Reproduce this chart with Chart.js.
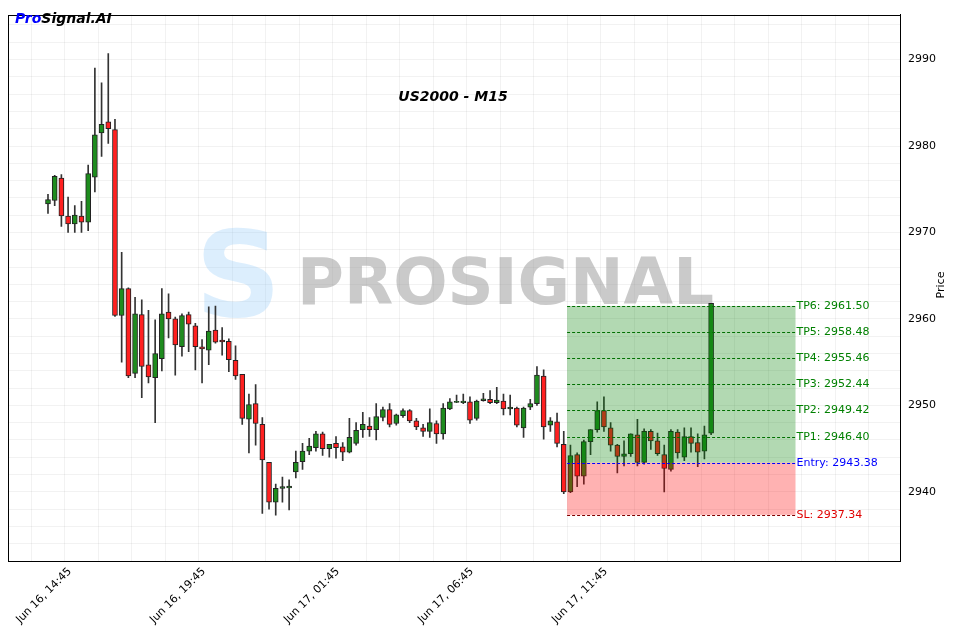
<!DOCTYPE html>
<html>
<head>
<meta charset="utf-8">
<script src="https://cdn.jsdelivr.net/npm/chart.js@4"></script>
<style>
  body { margin: 0; background: #fff; }
</style>
</head>
<body>
<canvas id="chart" width="953" height="629"></canvas>
<script>
// candles, 15 min each, index 0 = Jun 16, 14:45
const opens  = [2973.3,2973.7,2976.3,2971.9,2971.0,2971.9,2971.2,2976.4,2981.5,2982.8,
                2981.9,2960.4,2963.5,2953.7,2960.5,2954.7,2953.2,2955.4,2960.8,2960.0,
                2956.8,2960.5,2959.2,2956.7,2956.4,2958.7,2957.5,2957.4,2955.2,2953.6,
                2948.4,2950.2,2947.8,2943.4,2938.8,2940.4,2940.5,2942.3,2943.5,2944.7,
                2945.1,2946.7,2945.0,2945.6,2945.2,2944.6,2945.6,2947.2,2947.6,2947.2,
                2948.6,2949.5,2947.9,2948.8,2949.4,2948.2,2947.4,2947.0,2947.9,2946.7,
                2949.6,2950.4,2950.3,2950.4,2948.5,2950.6,2950.7,2950.3,2950.5,2949.6,
                2949.7,2947.4,2949.8,2950.2,2953.4,2947.7,2948.1,2945.5,2940.0,2944.3,
                2941.8,2945.8,2947.2,2949.4,2947.4,2945.4,2944.1,2944.4,2946.6,2943.4,
                2947.0,2945.9,2944.3,2942.6,2946.9,2944.0,2946.4,2945.7,2944.7,2946.8];
const highs  = [2974.4,2976.6,2976.7,2974.1,2973.1,2973.6,2977.8,2989.0,2987.3,2990.7,
                2983.1,2967.7,2963.6,2962.5,2962.2,2961.0,2959.9,2963.5,2962.9,2960.2,
                2960.6,2960.8,2959.5,2957.6,2961.4,2961.5,2959.0,2957.7,2956.9,2953.6,
                2951.3,2952.4,2948.6,2943.4,2940.9,2941.7,2941.4,2944.7,2945.6,2946.2,
                2947.0,2946.9,2945.5,2946.4,2945.7,2948.5,2948.0,2949.2,2948.6,2950.2,
                2949.8,2950.2,2949.0,2949.6,2949.5,2948.5,2947.8,2949.6,2948.2,2950.2,
                2950.8,2951.2,2951.3,2951.0,2950.6,2951.4,2951.7,2952.1,2951.3,2951.2,
                2949.8,2949.8,2950.7,2954.5,2954.1,2948.6,2949.1,2947.0,2945.4,2944.5,
                2946.0,2947.2,2950.4,2951.0,2948.0,2945.5,2945.9,2946.7,2948.4,2947.3,
                2947.2,2946.8,2945.4,2947.2,2947.2,2947.4,2947.4,2946.7,2947.6,2961.8];
const lows   = [2972.2,2973.1,2970.7,2970.0,2970.0,2970.0,2970.2,2974.7,2978.8,2980.3,
                2960.3,2955.0,2953.2,2953.2,2950.9,2952.6,2948.0,2954.0,2957.8,2953.5,
                2955.7,2956.2,2954.1,2952.6,2954.7,2957.2,2955.8,2953.9,2953.0,2947.8,
                2944.5,2945.4,2937.5,2938.0,2937.3,2938.8,2937.9,2941.6,2942.6,2944.3,
                2944.7,2944.2,2944.0,2943.9,2943.6,2944.5,2945.4,2946.3,2946.4,2946.0,
                2948.2,2947.5,2947.7,2948.6,2948.0,2947.2,2946.4,2946.3,2945.6,2946.1,
                2949.5,2950.3,2950.2,2947.9,2948.3,2950.5,2950.2,2950.2,2948.9,2948.9,
                2947.5,2946.3,2949.5,2950.0,2946.1,2947.0,2945.2,2939.8,2939.9,2940.6,
                2940.9,2944.3,2946.9,2947.0,2944.7,2942.2,2943.0,2944.1,2943.0,2943.2,
                2944.9,2944.2,2940.0,2942.4,2943.9,2943.6,2944.6,2942.9,2943.8,2946.6];
const closes = [2973.8,2976.5,2971.9,2971.0,2972.0,2971.2,2976.8,2981.3,2982.5,2982.0,
                2960.4,2963.5,2953.4,2960.6,2954.5,2953.3,2956.0,2960.6,2960.0,2957.0,
                2960.4,2959.4,2956.8,2956.6,2958.6,2957.3,2957.4,2955.3,2953.4,2948.5,
                2950.1,2947.9,2943.7,2938.8,2940.4,2940.6,2940.6,2943.4,2944.7,2945.3,
                2946.7,2945.0,2945.5,2945.1,2944.6,2946.3,2947.1,2947.8,2947.2,2948.7,
                2949.5,2947.8,2948.9,2949.4,2948.2,2947.5,2947.0,2948.0,2946.7,2949.7,
                2950.4,2950.4,2950.5,2948.3,2950.5,2950.7,2950.3,2950.6,2949.6,2949.8,
                2947.7,2949.7,2950.2,2953.5,2947.5,2948.2,2945.6,2940.0,2944.2,2941.8,
                2945.8,2947.2,2949.4,2947.5,2945.4,2944.1,2944.4,2946.7,2943.4,2947.0,
                2945.9,2944.4,2942.7,2947.0,2944.5,2946.4,2945.6,2944.6,2946.6,2961.8];

const tickLabels = { 0: 'Jun 16, 14:45', 20: 'Jun 16, 19:45', 40: 'Jun 17, 01:45', 60: 'Jun 17, 06:45', 80: 'Jun 17, 11:45' };

const tpLevels = [2946.40, 2949.42, 2952.44, 2955.46, 2958.48, 2961.50];
const entryLevel = 2943.38;
const slLevel = 2937.34;
const zoneStart = 77.5;
const zoneEnd = 111.6;

const green = '#1e8c1e';
const red = '#ff2020';
const candleColors = opens.map((o, i) => closes[i] >= o ? green : red);

const bodies = opens.map((o, i) => {
    let lo = Math.min(o, closes[i]), hi = Math.max(o, closes[i]);
    if (hi - lo < 0.12) { lo -= 0.06; hi += 0.06; }
    return { x: i, y: [lo, hi] };
});
const wicks = lows.map((l, i) => ({ x: i, y: [l, highs[i]] }));

// zones, levels, titles
const overlay = {
    id: 'overlay',
    beforeDatasetsDraw(chart) {
        const { ctx } = chart;
        ctx.save();
        // watermark
        ctx.textBaseline = 'middle';
        ctx.font = 'bold 120px "DejaVu Sans"';
        ctx.fillStyle = 'rgba(140,200,250,0.3)';
        ctx.fillText('S', 195, 285);
        ctx.font = 'bold 64px "DejaVu Sans"';
        ctx.fillStyle = 'rgba(150,150,150,0.5)';
        ctx.fillText('PROSIGNAL', 297, 287);
        ctx.restore();
    },
    afterDatasetsDraw(chart) {
        const { ctx, chartArea: a, scales: { x, y } } = chart;
        const x0 = x.getPixelForValue(zoneStart), x1 = x.getPixelForValue(zoneEnd);
        const yTop = y.getPixelForValue(tpLevels[tpLevels.length - 1]);
        const yEnt = y.getPixelForValue(entryLevel);
        const ySl = y.getPixelForValue(slLevel);
        ctx.save();
        ctx.fillStyle = 'rgba(0,128,0,0.3)';
        ctx.fillRect(x0, yTop, x1 - x0, yEnt - yTop);
        ctx.fillStyle = 'rgba(255,0,0,0.3)';
        ctx.fillRect(x0, yEnt, x1 - x0, ySl - yEnt);
        ctx.setLineDash([3, 2]);
        ctx.lineWidth = 1;
        ctx.font = '11px "DejaVu Sans"';
        ctx.textBaseline = 'middle';
        const line = (v, col, txtCol, label) => {
            const py = Math.round(y.getPixelForValue(v)) + 0.5;
            ctx.strokeStyle = col;
            ctx.beginPath(); ctx.moveTo(x0, py); ctx.lineTo(x1, py); ctx.stroke();
            ctx.fillStyle = txtCol;
            ctx.fillText(label, x1 + 1, py);
        };
        tpLevels.forEach((v, i) => line(v, '#007000', '#008000', 'TP' + (i + 1) + ': ' + v.toFixed(2)));
        line(entryLevel, '#0000ff', '#0000ff', 'Entry: ' + entryLevel.toFixed(2));
        line(slLevel, '#800000', '#e00000', 'SL: ' + slLevel.toFixed(2));
        ctx.setLineDash([]);
        // frame
        ctx.strokeStyle = '#000';
        ctx.strokeRect(Math.round(a.left) + 0.5, Math.round(a.top) + 0.5, Math.round(a.right - a.left), Math.round(a.bottom - a.top));
        ctx.font = 'italic bold 14px "DejaVu Sans"';
        ctx.fillStyle = '#000';
        ctx.textAlign = 'center';
        ctx.fillText('US2000 - M15', 453, 97);
        ctx.textAlign = 'left';
        ctx.fillStyle = '#0000ff';
        ctx.fillText('Pro', 15, 19);
        const w = ctx.measureText('Pro').width;
        ctx.fillStyle = '#000';
        ctx.fillText('Signal.AI', 15 + w, 19);
        // y axis title, bottom to top
        ctx.translate(941, 285);
        ctx.rotate(-Math.PI / 2);
        ctx.textAlign = 'center';
        ctx.font = '11px "DejaVu Sans"';
        ctx.fillText('Price', 0, 0);
        ctx.restore();
    }
};

new Chart(document.getElementById('chart'), {
    type: 'bar',
    data: {
        datasets: [
            { data: wicks, backgroundColor: '#333', barThickness: 1, grouped: false, order: 2 },
            { data: bodies, backgroundColor: candleColors, borderColor: '#222', borderWidth: 1,
              borderSkipped: false, barThickness: 5, grouped: false, order: 1 }
        ]
    },
    options: {
        responsive: false,
        animation: false,
        devicePixelRatio: 1,
        layout: { padding: { left: 8, top: 0, right: 0, bottom: 0 } },
        plugins: { legend: { display: false }, tooltip: { enabled: false } },
        scales: {
            x: {
                type: 'linear', min: -5.97, max: 127.2, offset: false,
                grid: { color: 'rgba(0,0,0,0.05)', drawTicks: false },
                border: { color: '#000' },
                afterBuildTicks(s) { s.ticks = []; for (let v = -5; v <= 125; v += 5) s.ticks.push({ value: v }); },
                afterFit(s) { s.height = 68; },
                ticks: {
                    autoSkip: false, maxRotation: 45, minRotation: 45, color: '#000',
                    labelOffset: 22, padding: 4,
                    font: { size: 11, family: 'DejaVu Sans' },
                    callback: v => tickLabels[v] || ''
                }
            },
            y: {
                position: 'right', min: 2932.0, max: 2995.2,
                grid: { color: 'rgba(0,0,0,0.05)', drawTicks: false },
                border: { color: '#000' },
                afterBuildTicks(s) { s.ticks = []; for (let v = 2934; v <= 2994; v += 2) s.ticks.push({ value: v }); },
                afterFit(s) { s.width = 53; },
                ticks: {
                    autoSkip: false, color: '#000', padding: 8,
                    font: { size: 11, family: 'DejaVu Sans' },
                    callback: v => v % 10 === 0 ? v : ''
                }
            }
        }
    },
    plugins: [overlay]
});
</script>
</body>
</html>
